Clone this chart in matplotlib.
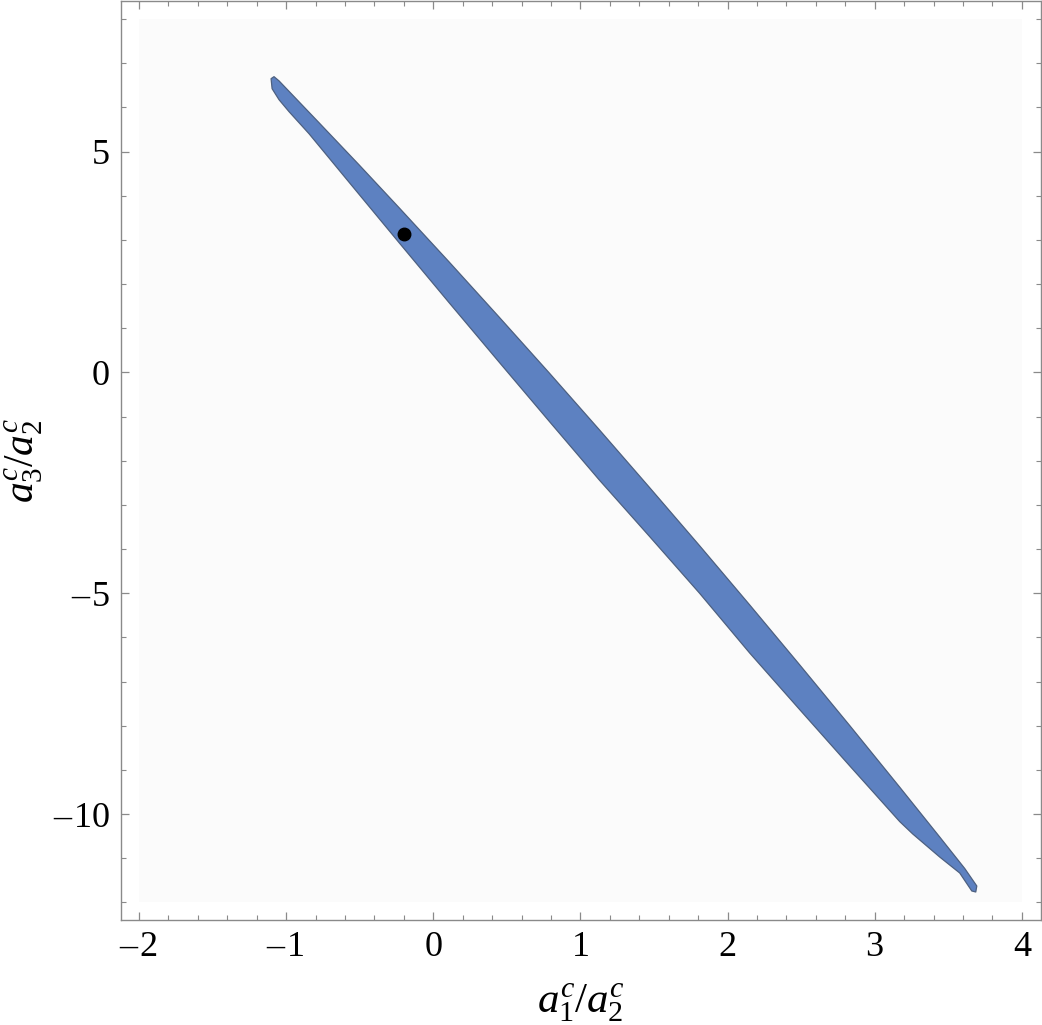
import numpy as np
import matplotlib
matplotlib.use("Agg")
from matplotlib import pyplot as plt
from matplotlib.patches import Polygon, Rectangle
from matplotlib.ticker import MultipleLocator, FuncFormatter

plt.rcParams['font.family'] = ['Liberation Serif', 'DejaVu Serif']
plt.rcParams['mathtext.fontset'] = 'custom'
plt.rcParams['mathtext.rm'] = 'Liberation Serif'
plt.rcParams['mathtext.it'] = 'Liberation Serif:italic'

# upper/right boundary of the allowed region, from top tip down
upper_x = [-1.102, -1.082, -1.048, -0.776, -0.503, -0.231, 0.109, 0.449, 0.789,
           1.129, 1.469, 1.810, 2.150, 2.490, 2.830, 3.170, 3.442, 3.612, 3.694,
           3.687]
upper_y = [6.652, 6.697, 6.602, 5.654, 4.697, 3.726, 2.498, 1.249, -0.014,
           -1.299, -2.602, -3.923, -5.262, -6.620, -7.995, -9.391, -10.520, -11.233, -11.629,
           -11.765]
# lower/left boundary, from bottom tip back up
lower_x = [3.660, 3.578, 3.442, 3.259, 3.170, 2.830, 2.490, 2.150, 1.810, 1.469,
           1.129, 0.789, 0.449, 0.109, -0.231, -0.571, -0.844, -0.980, -1.048, -1.095]
lower_y = [-11.742, -11.335, -10.973, -10.452, -10.170, -8.907, -7.633, -6.351, -5.000, -3.710,
           -2.437, -1.109, 0.229, 1.575, 2.934, 4.303, 5.405, 5.905, 6.176, 6.425]

# best-fit point
point_x = [-0.2]
point_y = [3.14]


def tick_fmt(v, pos):
    if v < 0:
        return '\u2013\u200a%g' % abs(v)
    return '%g' % v


fig = plt.figure(figsize=(10.42, 10.25), dpi=100)
ax = fig.add_axes([0.1161, 0.1024, 0.8829, 0.8966])

# faint plot-range background
ax.add_patch(Rectangle((-2, -12), 6, 20, facecolor='#fbfbfb', edgecolor='none', zorder=0))

verts = np.column_stack([upper_x + lower_x, upper_y + lower_y])
ax.add_patch(Polygon(verts, closed=True, facecolor='#5d81c1', edgecolor='#4d6080',
                     linewidth=0.9, joinstyle='round', zorder=2))
ax.plot(point_x, point_y, 'o', color='black', markersize=9, zorder=3)

ax.set_xlim(-2.122, 4.13)
ax.set_ylim(-12.40, 8.41)

ax.xaxis.set_major_locator(MultipleLocator(1))
ax.xaxis.set_minor_locator(MultipleLocator(0.2))
ax.yaxis.set_major_locator(MultipleLocator(5))
ax.yaxis.set_minor_locator(MultipleLocator(1))
ax.xaxis.set_major_formatter(FuncFormatter(tick_fmt))
ax.yaxis.set_major_formatter(FuncFormatter(tick_fmt))

for s in ax.spines.values():
    s.set_color('#8a8a8a')
    s.set_linewidth(1.0)
ax.tick_params(which='both', direction='in', color='#8a8a8a', labelsize=26,
               top=True, right=True, labeltop=False, labelright=False)
ax.tick_params(which='major', length=6, width=0.9, pad=8)
ax.tick_params(which='minor', length=3.8, width=0.8)

ax.set_xlabel(r'$a_1^c/a_2^c$', fontsize=31, labelpad=12)
ax.set_ylabel(r'$a_3^c/a_2^c$', fontsize=30)
ax.yaxis.set_label_coords(-0.083, 0.5)

fig.savefig('out.png', dpi=100)
